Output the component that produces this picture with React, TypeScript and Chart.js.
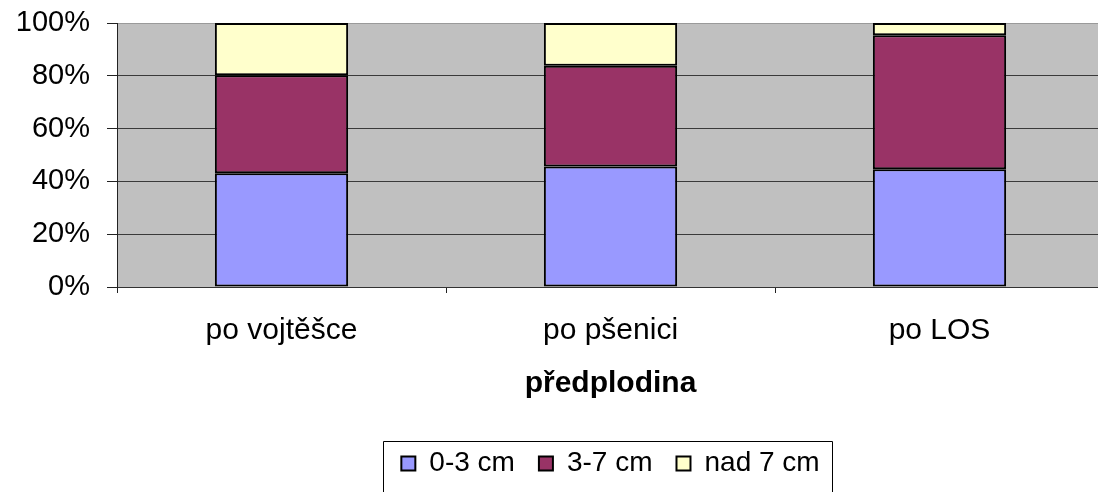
import { useEffect, useRef } from "react";
import { Chart, registerables } from "chart.js";

Chart.register(...registerables);

const categories = ["po vojtěšce", "po pšenici", "po LOS"];
const seriesNames = ["0-3 cm", "3-7 cm", "nad 7 cm"];
const seriesColors = ["#9999FF", "#993366", "#FFFFCC"];
const small = [43.1, 45.6, 44.6];
const medium = [37.1, 38.2, 50.8];
const large = [19.8, 16.2, 4.6];
const yTickValues = [0, 20, 40, 60, 80, 100];
const xTitle = "předplodina";

const FONT = "'Liberation Sans', Arial, sans-serif";

const plotBg = {
  id: "plotBg",
  beforeDraw(chart: any) {
    const { ctx, chartArea } = chart;
    ctx.save();
    ctx.fillStyle = "#C0C0C0";
    ctx.fillRect(chartArea.left, chartArea.top, chartArea.right - chartArea.left, chartArea.bottom - chartArea.top);
    ctx.restore();
  },
};

const legendFrame = {
  id: "legendFrame",
  afterDraw(chart: any) {
    const lg = chart.legend;
    if (!lg || !lg.legendHitBoxes || !lg.legendHitBoxes.length) return;
    const hb = lg.legendHitBoxes;
    const first = hb[0];
    const last = hb[hb.length - 1];
    const cy = first.top + first.height / 2;
    const left = Math.round(first.left - 18) + 0.5;
    const right = Math.round(last.left + last.width + 12) + 0.5;
    const top = Math.round(cy - 23) + 0.5;
    const { ctx } = chart;
    ctx.save();
    ctx.strokeStyle = "#000";
    ctx.lineWidth = 1;
    ctx.beginPath();
    ctx.moveTo(left, chart.height + 5);
    ctx.lineTo(left, top);
    ctx.lineTo(right, top);
    ctx.lineTo(right, chart.height + 5);
    ctx.stroke();
    ctx.restore();
  },
};

export default function App() {
  const ref = useRef<HTMLCanvasElement | null>(null);

  useEffect(() => {
    if (!ref.current) return;
    const data = [small, medium, large];
    const chart = new Chart(ref.current, {
      type: "bar",
      data: {
        labels: categories,
        datasets: seriesNames.map((name, i) => ({
          label: name,
          data: data[i],
          backgroundColor: seriesColors[i],
          borderColor: "#000",
          borderWidth: 2,
          borderSkipped: false,
          barPercentage: 0.405,
          categoryPercentage: 1,
        })),
      },
      options: {
        animation: false,
        responsive: false,
        devicePixelRatio: 1,
        layout: { padding: { left: 0, right: 6, top: 23, bottom: 12.5 } },
        plugins: {
          tooltip: { enabled: false },
          legend: {
            position: "bottom",
            fullSize: false,
            align: "center",
            labels: {
              boxWidth: 14,
              boxHeight: 14,
              padding: 24,
              color: "#000",
              font: { family: FONT, size: 28 },
            },
          },
        },
        scales: {
          x: {
            stacked: true,
            offset: true,
            grid: {
              offset: true,
              drawOnChartArea: false,
              drawTicks: true,
              tickLength: 6,
              tickColor: "#222",
            },
            border: { display: true, color: "#333", width: 1 },
            ticks: {
              color: "#000",
              padding: 20,
              font: { family: FONT, size: 30 },
              maxRotation: 0,
            },
            title: {
              display: true,
              text: xTitle,
              color: "#000",
              font: { family: FONT, size: 30, weight: "bold" },
              padding: { top: 0, bottom: 24 },
            },
            afterFit(scale: any) {
              scale.height = 138.5;
            },
          },
          y: {
            stacked: true,
            min: 0,
            max: 100,
            afterBuildTicks(scale: any) {
              scale.ticks = yTickValues.map((v) => ({ value: v }));
            },
            grid: {
              color: (c: any) => (c.tick && c.tick.value === 100 ? "#9a9a9a" : "#3a3a3a"),
              tickColor: "#222",
              tickLength: 10,
              lineWidth: 1,
            },
            border: { display: true, color: "#222", width: 1 },
            ticks: {
              color: "#000",
              padding: 17,
              font: { family: FONT, size: 29 },
              callback: (v: any) => `${v}%`,
            },
            afterFit(scale: any) {
              scale.width = 117;
              scale.paddingTop = 0;
              scale.paddingBottom = 0;
            },
          },
        },
      },
      plugins: [plotBg, legendFrame],
    });
    return () => chart.destroy();
  }, []);

  return (
    <div
      style={{
        position: "fixed",
        left: 0,
        top: 0,
        width: 1098,
        height: 492,
        overflow: "hidden",
        background: "#fff",
      }}
    >
      <canvas ref={ref} width={1110} height={500} style={{ display: "block", width: 1110, height: 500 }} />
    </div>
  );
}
